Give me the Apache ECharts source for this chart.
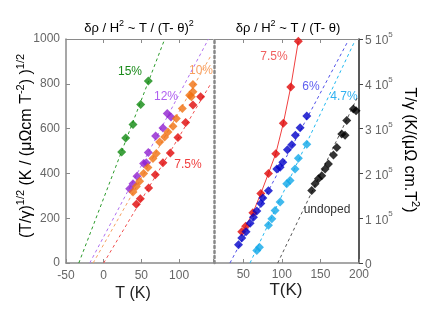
<!DOCTYPE html>
<html><head><meta charset="utf-8">
<script src="https://cdn.jsdelivr.net/npm/echarts@6/dist/echarts.min.js"></script>
<style>
html,body{margin:0;padding:0;background:#fff}
#wrap{position:relative;width:436px;height:311px}
#c{width:436px;height:311px}
.xl{position:absolute;font:12px 'Liberation Sans', Arial, sans-serif;color:#666;transform:translateX(-50%);white-space:nowrap;line-height:14px;z-index:10}
</style>
</head><body><div id="wrap"><div id="c"></div></div>
<script>
// ---- Left panel data: (T/gamma)^1/2 vs T ----
const pts15 = [[23.9,496],[29.2,558],[38.9,618],[49.1,708],[59.2,812]];
const pts12 = [[34.5,332],[38.9,354],[44.2,387],[53,444],[56.5,447],[59.2,493],[68.9,567],[78.6,603],[84.3,667],[89.2,652]];
const pts10 = [[38.9,317],[43.3,342],[47.7,365],[53,399],[58.7,426],[65.3,466],[69.8,489],[74.2,540],[80.8,563],[85.2,585],[91.9,611],[96.3,645],[104.3,690],[114,749],[116.3,742],[118.4,764],[118.4,797]];
const pts75L = [[43.3,262],[48.6,287],[59.6,335],[68.5,394],[78.6,447],[88.4,491],[98.5,560],[108.7,627],[118.4,705],[128.6,742]];
const fit15 = [[-33,0],[81,1000]];
const fit12 = [[-18.5,0],[139,1000]];
const fit10 = [[-14,0],[143,930]];
const fit75L = [[0,0],[142,800]];
// ---- Right panel data: T/gamma vs T ----
const pts75R = [[48,70000],[53.1,82000],[62.4,112000],[72.7,155000],[82.6,200000],[92.1,244000],[101.9,312000],[111.5,393000],[121.3,495000]];
const pts6 = [[43.8,41000],[48,56000],[53.6,70000],[58.8,89000],[63.1,102000],[67.5,116000],[72.7,133000],[75.3,145000],[82.6,161000],[93.4,210000],[97.7,214000],[101.2,225000],[107.2,253000],[112.9,264000],[117.5,285000],[123.7,302000],[132.3,328000]];
const pts47 = [[67.5,28000],[70.9,35000],[82.6,84000],[87,99000],[91.2,117000],[97.7,136000],[106.3,177000],[110.6,184000],[117.1,210000],[121.4,234000],[132.3,265000]];
const ptsUn = [[138.7,162000],[143,177000],[147.4,188000],[151.7,195000],[156.1,210000],[160.4,221000],[166.9,241000],[171.2,258000],[177.6,288000],[181.9,285000],[184.1,318000],[192.7,344000],[196.2,340000]];
const fit6 = [[32.7,0],[185,493000]];
const fit47 = [[58.7,0],[195,497000]];
const fitUn = [[94.6,0],[198,370000]];
const leftXTicks = [-50,0,50,100];
const rightXTicks = [50,100,150,200];

const chart = echarts.init(document.getElementById('c'), null, {renderer:'canvas'});
const FONT = 'Liberation Sans, Arial, sans-serif';
const GREY = '#8a8a8a';
const LAB = '#666';

function sc(name, data, color, xi, yi){
  return {name, type:'scatter', data, xAxisIndex:xi, yAxisIndex:yi, symbol:'diamond', symbolSize:9,
    itemStyle:{color}, silent:true, z:3};
}
function ln(name, data, color, xi, yi, type){
  return {name, type:'line', data, xAxisIndex:xi, yAxisIndex:yi, showSymbol:false, silent:true,
    lineStyle:{color, width:1, type: type||[3,3]}, z:2};
}
const supRich = {
  n:{fontSize:12, fontFamily:FONT, color:LAB, lineHeight:16, verticalAlign:'bottom'},
  s:{fontSize:8, fontFamily:FONT, color:LAB, lineHeight:16, verticalAlign:'top'}
};

chart.setOption({
  animation:false,
  grid:[
    {left:66, top:39, width:147, height:224},
    {left:214, top:39, width:145, height:224}
  ],
  xAxis:[
    {gridIndex:0, type:'value', min:-50, max:145, interval:50, position:'bottom',
     axisLine:{onZero:false, lineStyle:{color:GREY, width:1.5}}, axisTick:{inside:true, length:4, lineStyle:{color:GREY}},
     axisLabel:{show:false}, splitLine:{show:false}},
    {gridIndex:1, type:'value', min:12, max:200, position:'bottom',
     axisLine:{onZero:false, lineStyle:{color:GREY, width:1.5}}, axisTick:{inside:true, length:4, lineStyle:{color:GREY}, customValues:rightXTicks},
     axisLabel:{color:LAB, fontFamily:FONT, fontSize:12, margin:6, customValues:rightXTicks}, splitLine:{show:false}},
    {gridIndex:0, type:'value', min:-50, max:145, position:'top',
     axisLine:{onZero:false, lineStyle:{color:GREY, width:1}}, axisTick:{inside:true, length:4, lineStyle:{color:GREY}, customValues:[0,50,100]},
     axisLabel:{show:false}, splitLine:{show:false}},
    {gridIndex:1, type:'value', min:12, max:200, position:'top',
     axisLine:{onZero:false, lineStyle:{color:GREY, width:1}}, axisTick:{inside:true, length:4, lineStyle:{color:GREY}, customValues:[50,100,150]},
     axisLabel:{show:false}, splitLine:{show:false}}
  ],
  yAxis:[
    {gridIndex:0, type:'value', min:0, max:1000, interval:200, position:'left',
     axisLine:{show:true, onZero:false, lineStyle:{color:GREY, width:1.5}}, axisTick:{show:true, inside:true, length:4, lineStyle:{color:GREY}},
     axisLabel:{color:LAB, fontFamily:FONT, fontSize:12, margin:6, formatter:function(v){return String(v);}}, splitLine:{show:false}},
    {gridIndex:1, type:'value', min:0, max:500000, interval:100000, position:'right',
     axisLine:{show:true, onZero:false, lineStyle:{color:'#222', width:1.5}}, axisTick:{show:true, inside:false, length:4, lineStyle:{color:'#444'}},
     axisLabel:{margin:6, formatter:function(v){ return v===0 ? '{n|0}' : '{n|'+(v/100000)+' 10}{s|5}'; }, rich:supRich},
     splitLine:{show:false}},
    {gridIndex:1, type:'value', min:0, max:500000, position:'left',
     axisLine:{show:true, onZero:false, lineStyle:{color:'#888', width:2.5, type:[2,3]}}, axisTick:{show:false}, axisLabel:{show:false}, splitLine:{show:false}}
  ],
  series:[
    ln('fit15', fit15, '#2a9a2a', 0, 0),
    ln('fit12', fit12, '#b070f0', 0, 0),
    ln('fit10', fit10, '#f5a060', 0, 0),
    ln('fit75L', fit75L, '#f05050', 0, 0),
    sc('15%', pts15, '#108a10', 0, 0),
    sc('12%', pts12, '#9020d0', 0, 0),
    sc('10%', pts10, '#f07010', 0, 0),
    sc('7.5%', pts75L, '#e00808', 0, 0),
    ln('fit6', fit6, '#5050e8', 1, 1),
    ln('fit47', fit47, '#20b8f0', 1, 1),
    ln('fitUn', fitUn, '#555', 1, 1),
    ln('7.5%R', pts75R, '#f04040', 1, 1, 'solid'),
    sc('7.5%R', pts75R, '#e00808', 1, 1),
    sc('6%', pts6, '#0000c8', 1, 1),
    sc('4.7%', pts47, '#10a8e8', 1, 1),
    sc('undoped', ptsUn, '#000', 1, 1)
  ],
  graphic:[
    {type:'text', x:139, y:27, style:{text:'{a|δρ / H}{s|2}{a| ~ T / (T- θ)}{s|2}', align:'center', verticalAlign:'middle',
      rich:{a:{fontSize:13, fontFamily:FONT, color:'#111', lineHeight:16, verticalAlign:'bottom'}, s:{fontSize:9, fontFamily:FONT, color:'#111', lineHeight:16, verticalAlign:'top'}}}},
    {type:'text', x:288, y:27, style:{text:'{a|δρ / H}{s|2}{a| ~ T / (T- θ)}', align:'center', verticalAlign:'middle',
      rich:{a:{fontSize:13, fontFamily:FONT, color:'#111', lineHeight:16, verticalAlign:'bottom'}, s:{fontSize:9, fontFamily:FONT, color:'#111', lineHeight:16, verticalAlign:'top'}}}},
    {type:'text', x:25, y:146, rotation:Math.PI/2, style:{text:'{a|(T/γ)}{s|1/2}{a| (K / (μΩcm T}{s|-2}{a|) )}{s|1/2}', align:'center', verticalAlign:'middle',
      rich:{a:{fontSize:16, fontFamily:FONT, color:'#222', lineHeight:20, verticalAlign:'bottom'}, s:{fontSize:11, fontFamily:FONT, color:'#222', lineHeight:20, verticalAlign:'top'}}}},
    {type:'text', x:411, y:150, rotation:-Math.PI/2, style:{text:'{a|T/γ (K/(μΩ cm.T}{s|2}{a|)}', align:'center', verticalAlign:'middle',
      rich:{a:{fontSize:16, fontFamily:FONT, color:'#222', lineHeight:20, verticalAlign:'bottom'}, s:{fontSize:11, fontFamily:FONT, color:'#222', lineHeight:20, verticalAlign:'top'}}}},
    {type:'text', x:133, y:294, style:{text:'T (K)', font:'16px '+FONT, fill:'#222', align:'center', verticalAlign:'middle'}},
    {type:'text', x:286, y:290, style:{text:'T(K)', font:'17px '+FONT, fill:'#222', align:'center', verticalAlign:'middle'}},
    {type:'text', x:130, y:72, style:{text:'15%', font:'12px '+FONT, fill:'#1a8a1a', align:'center', verticalAlign:'middle'}},
    {type:'text', x:166, y:97, style:{text:'12%', font:'12px '+FONT, fill:'#b060f0', align:'center', verticalAlign:'middle'}},
    {type:'text', x:201, y:71, style:{text:'10%', font:'12px '+FONT, fill:'#f8a060', align:'center', verticalAlign:'middle'}},
    {type:'text', x:188, y:165, style:{text:'7.5%', font:'12px '+FONT, fill:'#f04040', align:'center', verticalAlign:'middle'}},
    {type:'text', x:274, y:57, style:{text:'7.5%', font:'12px '+FONT, fill:'#f06060', align:'center', verticalAlign:'middle'}},
    {type:'text', x:311, y:87, style:{text:'6%', font:'12px '+FONT, fill:'#6060f0', align:'center', verticalAlign:'middle'}},
    {type:'text', x:344, y:97, style:{text:'4.7%', font:'12px '+FONT, fill:'#30b0f0', align:'center', verticalAlign:'middle'}},
    {type:'text', x:327, y:210, style:{text:'undoped', font:'12px '+FONT, fill:'#333', align:'center', verticalAlign:'middle'}}
  ]
});

// Left x-axis tick labels, placed through the axis scale of xAxis 0
const wrap = document.getElementById('wrap');
const axisY = chart.convertToPixel({yAxisIndex:0}, 0);
leftXTicks.forEach(function(v){
  const d = document.createElement('div');
  d.className = 'xl';
  d.textContent = String(v);
  d.style.left = chart.convertToPixel({xAxisIndex:0}, v) + 'px';
  d.style.top = (axisY + 5) + 'px';
  wrap.appendChild(d);
});
</script></body></html>
